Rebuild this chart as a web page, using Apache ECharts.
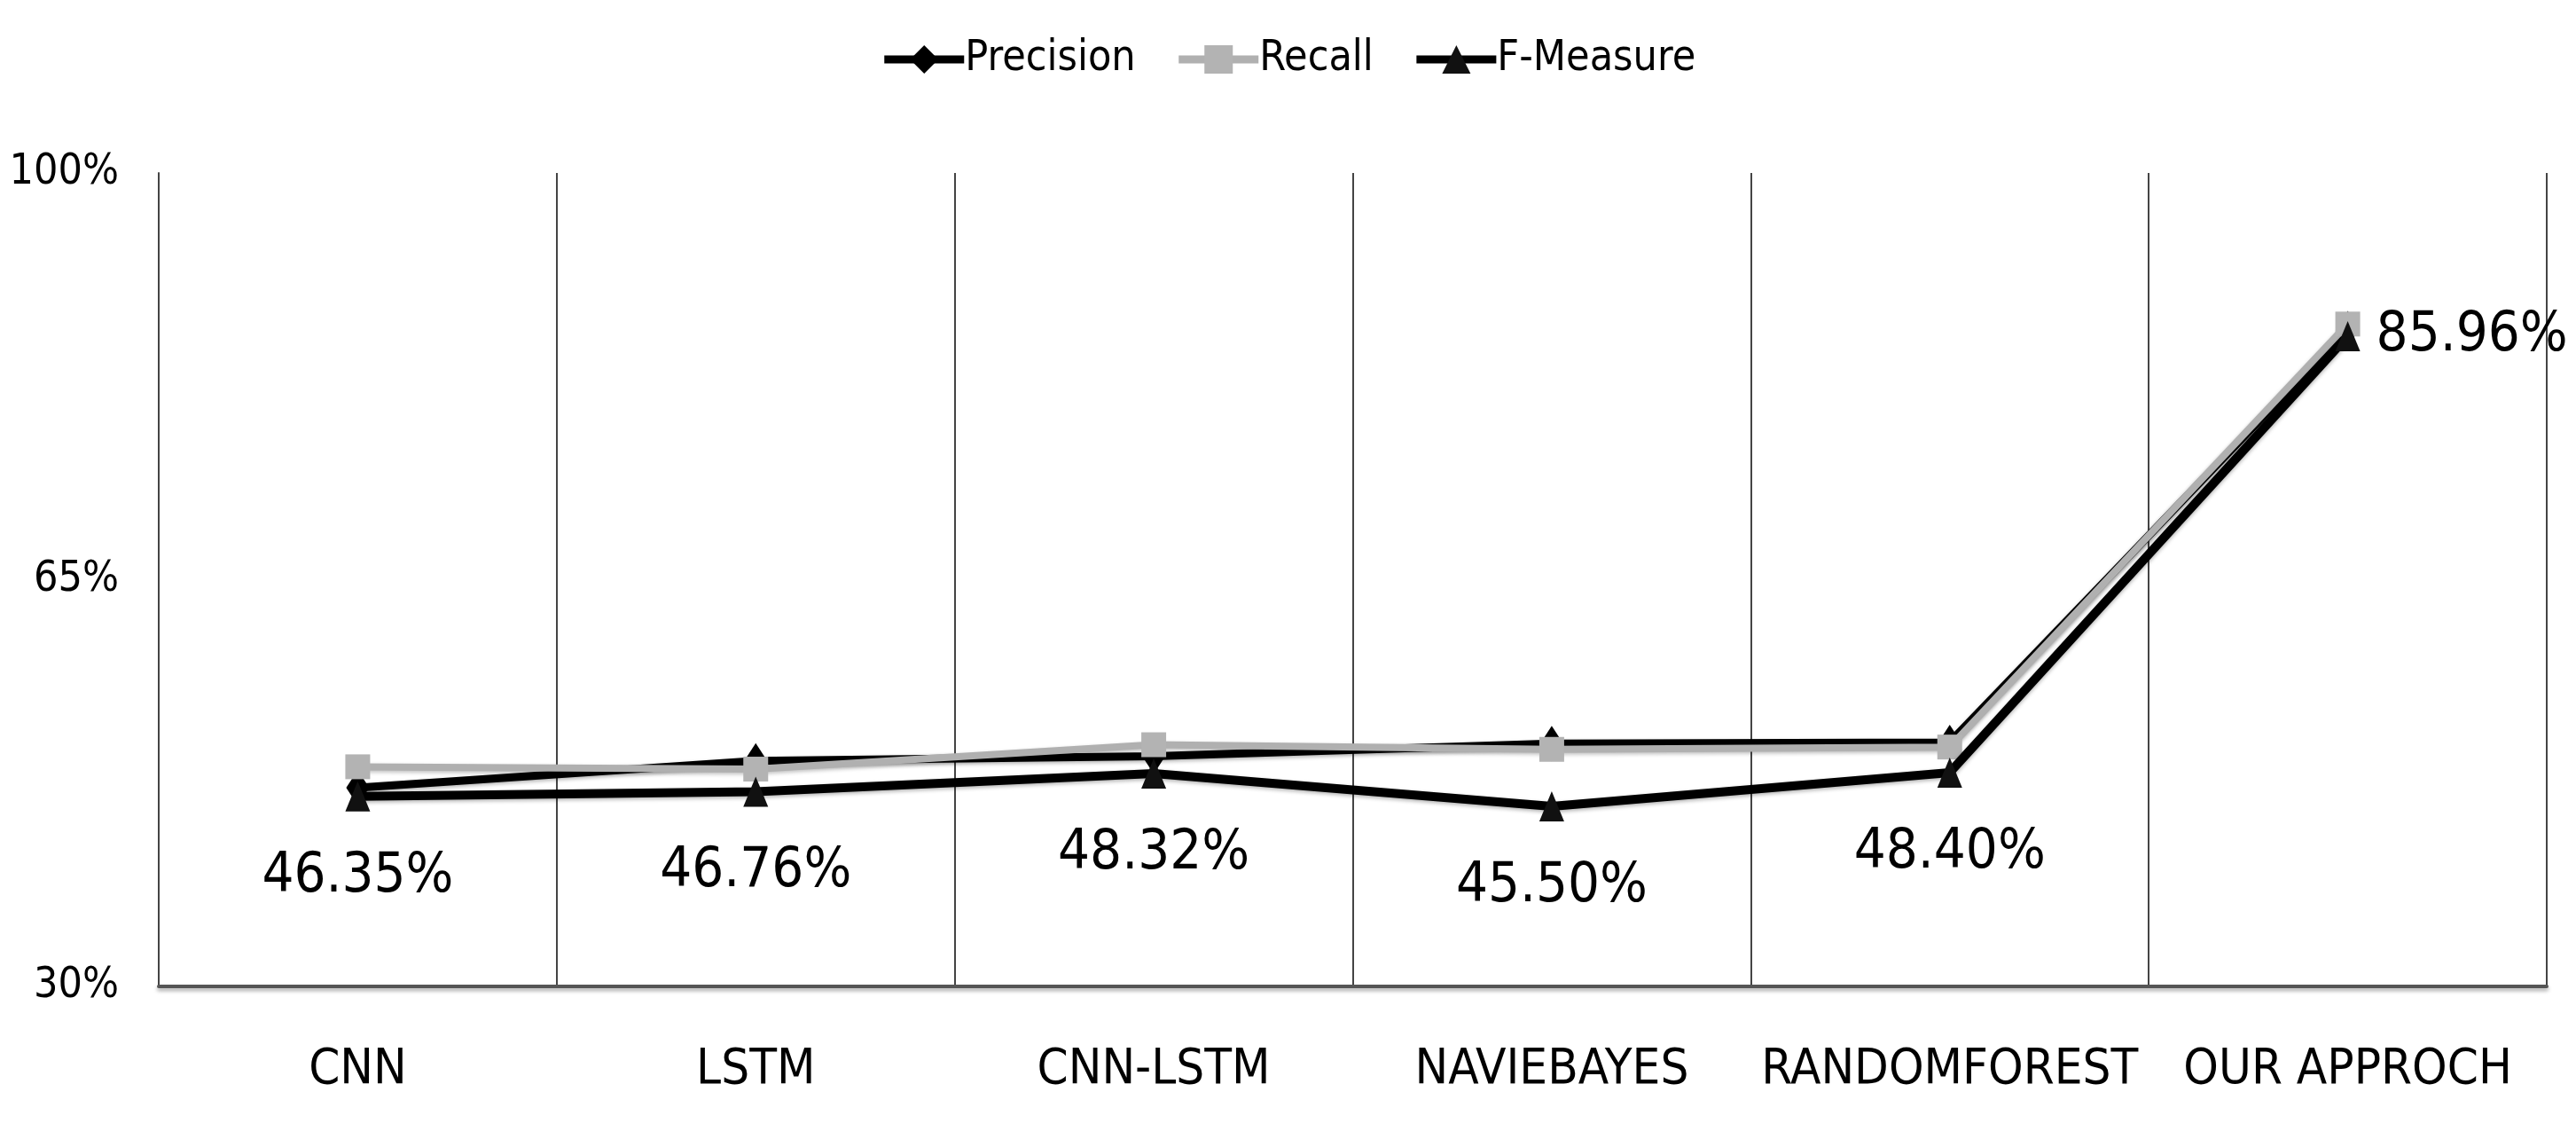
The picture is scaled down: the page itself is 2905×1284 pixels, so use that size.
<!DOCTYPE html>
<html>
<head>
<meta charset="utf-8">
<script src="https://cdn.jsdelivr.net/npm/echarts@6/dist/echarts.min.js"></script>
<style>
html,body{margin:0;padding:0;background:#fff;}
#c{width:2905px;height:1284px;}
</style>
</head>
<body>
<div id="c"></div>
<script>
const categories = ['CNN', 'LSTM', 'CNN-LSTM', 'NAVIEBAYES', 'RANDOMFOREST', 'OUR APPROCH'];
const precision = [47.1, 49.4, 49.8, 50.9, 51.0, 86.6];
const recall = [48.9, 48.7, 50.8, 50.4, 50.6, 87.0];
const fMeasure = [46.35, 46.76, 48.32, 45.50, 48.40, 85.96];
const yTicks = [30, 65, 100];

const FONT = '"DejaVu Sans Condensed", "Liberation Sans Narrow", "Liberation Sans", sans-serif';
const chart = echarts.init(document.getElementById('c'));

const last = fMeasure.length - 1;
const fData = fMeasure.map((v, i) => i === last ? { value: v, label: { position: 'right', distance: 18 } } : v);

chart.setOption({
  backgroundColor: '#ffffff',
  animation: false,
  textStyle: { fontFamily: FONT, color: '#000' },
  legend: {
    top: 38,
    left: 'center',
    itemWidth: 90,
    itemHeight: 40,
    itemGap: 44,
    lineStyle: { width: 9 },
    textStyle: { fontSize: 48, fontFamily: FONT, color: '#000', padding: [0, 0, 0, -4] },
    data: ['Precision', 'Recall', 'F-Measure']
  },
  grid: { left: 179, right: 33, top: 195, bottom: 172, containLabel: false },
  xAxis: {
    type: 'category',
    data: categories,
    boundaryGap: true,
    axisLine: { show: true, lineStyle: { color: '#555', width: 4, shadowColor: 'rgba(0,0,0,0.35)', shadowBlur: 4, shadowOffsetY: 3 } },
    axisTick: { show: false },
    axisLabel: { interval: 0, fontSize: 56, fontFamily: FONT, color: '#000', margin: 66 },
    splitLine: { show: true, interval: 0, lineStyle: { color: '#444', width: 2 } }
  },
  yAxis: {
    type: 'value',
    min: 30,
    max: 100,
    axisLine: { show: true, lineStyle: { color: '#444', width: 2 } },
    axisTick: { show: false },
    splitLine: { show: false },
    axisLabel: {
      customValues: yTicks,
      formatter: '{value}%',
      fontSize: 48,
      fontFamily: FONT,
      color: '#000',
      margin: 45
    }
  },
  series: [
    {
      name: 'Precision',
      type: 'line',
      data: precision,
      symbol: 'diamond',
      symbolSize: [26, 40],
      itemStyle: { color: '#000' },
      lineStyle: { color: '#000', width: 9, shadowColor: 'rgba(0,0,0,0.3)', shadowBlur: 4, shadowOffsetY: 2 },
      z: 2
    },
    {
      name: 'Recall',
      type: 'line',
      data: recall,
      symbol: 'rect',
      symbolSize: 28,
      itemStyle: { color: '#b3b3b3' },
      lineStyle: { color: '#b0b0b0', width: 8, shadowColor: 'rgba(0,0,0,0.25)', shadowBlur: 4, shadowOffsetY: 2 },
      z: 3
    },
    {
      name: 'F-Measure',
      type: 'line',
      data: fData,
      symbol: 'triangle',
      symbolSize: [28, 34],
      itemStyle: { color: '#111' },
      lineStyle: { color: '#000', width: 10, shadowColor: 'rgba(0,0,0,0.3)', shadowBlur: 4, shadowOffsetY: 2 },
      label: {
        show: true,
        position: 'bottom',
        distance: 42,
        fontSize: 63,
        fontFamily: FONT,
        color: '#000',
        formatter: p => p.value.toFixed(2) + '%'
      },
      z: 4
    }
  ]
});
</script>
</body>
</html>
